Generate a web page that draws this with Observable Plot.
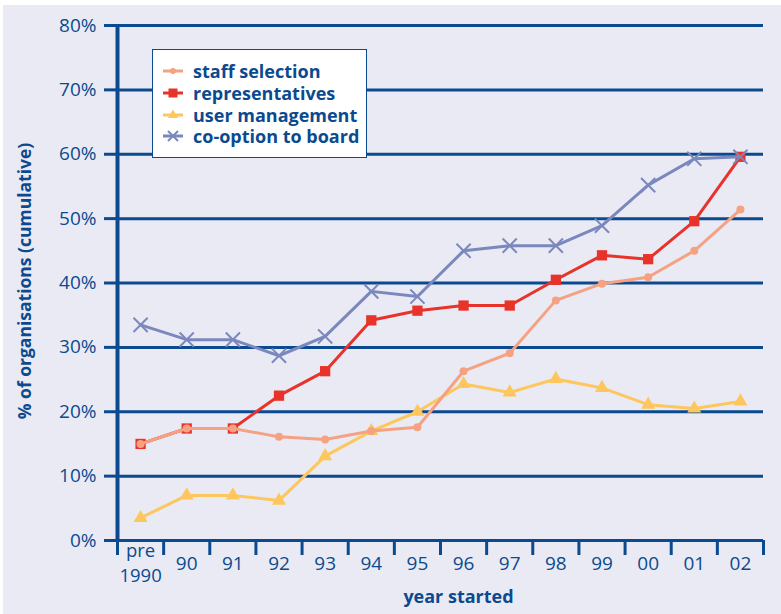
<!DOCTYPE html>
<html>
<head>
<meta charset="utf-8">
<script src="https://cdn.jsdelivr.net/npm/d3@7"></script>
<script src="https://cdn.jsdelivr.net/npm/@observablehq/plot@0.6"></script>
<style>
  html, body { margin: 0; padding: 0; background: #ffffff; }
  #wrap { position: relative; width: 781px; height: 614px; background: #ffffff; overflow: hidden; font-family: "Open Sans", sans-serif; }
  #chart { position: absolute; left: 3px; top: 5px; }
  #legend { position: absolute; left: 152px; top: 49px; width: 213px; height: 107px; background: #ffffff; border: 1.5px solid #0b4a8f; }
  .row { position: absolute; left: 0; height: 22px; display: flex; align-items: center; }
  .row svg { margin-left: 10px; }
  .row span { margin-left: 10px; font-weight: 700; font-size: 18px; color: #0b4a8f; white-space: nowrap; }
</style>
</head>
<body>
<div id="wrap">
  <div id="chart"></div>
  <div id="legend"></div>
</div>
<script>
const categories = ["pre\n1990", "90", "91", "92", "93", "94", "95", "96", "97", "98", "99", "00", "01", "02"];
const staffSelection  = [15.0, 17.4, 17.4, 16.1, 15.7, 17.0, 17.6, 26.3, 29.1, 37.3, 39.9, 40.9, 45.0, 51.4];
const representatives = [15.0, 17.4, 17.4, 22.5, 26.3, 34.2, 35.7, 36.5, 36.5, 40.5, 44.3, 43.7, 49.6, 59.6];
const userManagement  = [3.5, 7.0, 7.0, 6.2, 13.1, 17.0, 20.0, 24.3, 23.0, 25.1, 23.7, 21.1, 20.5, 21.6];
const coOption        = [33.5, 31.2, 31.2, 28.7, 31.7, 38.7, 37.9, 45.0, 45.8, 45.8, 48.9, 55.2, 59.3, 59.6];
const yTicks = [0, 10, 20, 30, 40, 50, 60, 70, 80];
const seriesNames = ["staff selection", "representatives", "user management", "co-option to board"];

const BLUE = "#0b4a8f";
const BG = "#eaeaf4";
const colors = {
  "staff selection": "#f5a283",
  "representatives": "#e8332a",
  "user management": "#fdc75d",
  "co-option to board": "#7b88bd"
};

function toRows(name, values) {
  return values.map((v, i) => ({series: name, i, v}));
}
const staffRows = toRows("staff selection", staffSelection);
const repRows = toRows("representatives", representatives);
const userRows = toRows("user management", userManagement);
const coRows = toRows("co-option to board", coOption);
const catLines = categories.map((c, i) => ({i, lines: c.split("\n")}));
const singleRows = catLines.filter(d => d.lines.length === 1).map(d => ({i: d.i, t: d.lines[0]}));
const firstRows = catLines.filter(d => d.lines.length > 1).map(d => ({i: d.i, t: d.lines[0]}));
const secondRows = catLines.filter(d => d.lines.length > 1).map(d => ({i: d.i, t: d.lines[1]}));

const chart = Plot.plot({
  width: 778,
  height: 609,
  marginTop: 20,
  marginBottom: 74,
  marginLeft: 114,
  marginRight: 18,
  style: {background: BG, fontFamily: "'Open Sans', sans-serif", fontSize: "19px", color: BLUE},
  x: {type: "linear", domain: [-0.5, categories.length - 0.5], axis: null},
  y: {domain: [0, 80], axis: null},
  marks: [
    Plot.gridY(yTicks, {stroke: BLUE, strokeOpacity: 1, strokeWidth: 3}),
    Plot.axisY(yTicks, {tickSize: 13, tickPadding: 8, tickFormat: d => d + "%", stroke: BLUE, strokeWidth: 3, fill: BLUE, fontSize: 19, label: null}),
    Plot.axisX(d3.range(-0.5, categories.length, 1), {tickSize: 15, tickFormat: () => "", stroke: BLUE, strokeWidth: 3, label: null}),
    Plot.ruleX([-0.5], {y1: 0, y2: 80, stroke: BLUE, strokeWidth: 4}),
    Plot.text(singleRows, {x: "i", text: "t", frameAnchor: "bottom", dy: 23, lineAnchor: "middle", fill: BLUE, fontSize: 19}),
    Plot.text(firstRows, {x: "i", text: "t", frameAnchor: "bottom", dy: 11, lineAnchor: "middle", fill: BLUE, fontSize: 18.5}),
    Plot.text(secondRows, {x: "i", text: "t", frameAnchor: "bottom", dy: 36, lineAnchor: "middle", fill: BLUE, fontSize: 18.5}),
    Plot.text(["% of organisations (cumulative)"], {frameAnchor: "left", rotate: -90, dx: -92, dy: -2, textAnchor: "middle", lineAnchor: "middle", fontWeight: "bold", fontSize: 17.5, fill: BLUE}),
    Plot.text(["year started"], {frameAnchor: "bottom", dx: 18, dy: 57, lineAnchor: "middle", fontWeight: "bold", fontSize: 18, fill: BLUE}),

    Plot.line(repRows, {x: "i", y: "v", stroke: colors["representatives"], strokeWidth: 3}),
    Plot.dot(repRows, {x: "i", y: "v", symbol: "square", r: 5.8, fill: colors["representatives"]}),

    Plot.line(userRows, {x: "i", y: "v", stroke: colors["user management"], strokeWidth: 3}),
    Plot.dot(userRows, {x: "i", y: "v", symbol: "triangle", r: 5.2, fill: colors["user management"]}),

    Plot.line(staffRows, {x: "i", y: "v", stroke: colors["staff selection"], strokeWidth: 3}),
    Plot.dot(staffRows, {x: "i", y: "v", symbol: "circle", r: 4, fill: colors["staff selection"]}),

    Plot.line(coRows, {x: "i", y: "v", stroke: colors["co-option to board"], strokeWidth: 3}),
    Plot.dot(coRows, {x: "i", y: "v", symbol: "times", r: 6.5, stroke: colors["co-option to board"], strokeWidth: 2})
  ]
});
document.getElementById("chart").appendChild(chart);

// legend
const legend = document.getElementById("legend");
const markerSvg = {
  "staff selection": c => `<circle cx="10" cy="8" r="3" fill="${c}"/>`,
  "representatives": c => `<rect x="5.5" y="3.5" width="9" height="9" fill="${c}"/>`,
  "user management": c => `<path d="M10,2.5 L15,11 L5,11 Z" fill="${c}"/>`,
  "co-option to board": c => `<path d="M5,3 L15,13 M15,3 L5,13" stroke="${c}" stroke-width="2"/>`
};
seriesNames.forEach((name, k) => {
  const row = document.createElement("div");
  row.className = "row";
  row.style.top = (10 + k * 21.8) + "px";
  const c = colors[name];
  row.innerHTML = `<svg width="20" height="16"><line x1="0" y1="8" x2="20" y2="8" stroke="${c}" stroke-width="3"/>${markerSvg[name](c)}</svg><span>${name}</span>`;
  legend.appendChild(row);
});
</script>
</body>
</html>
